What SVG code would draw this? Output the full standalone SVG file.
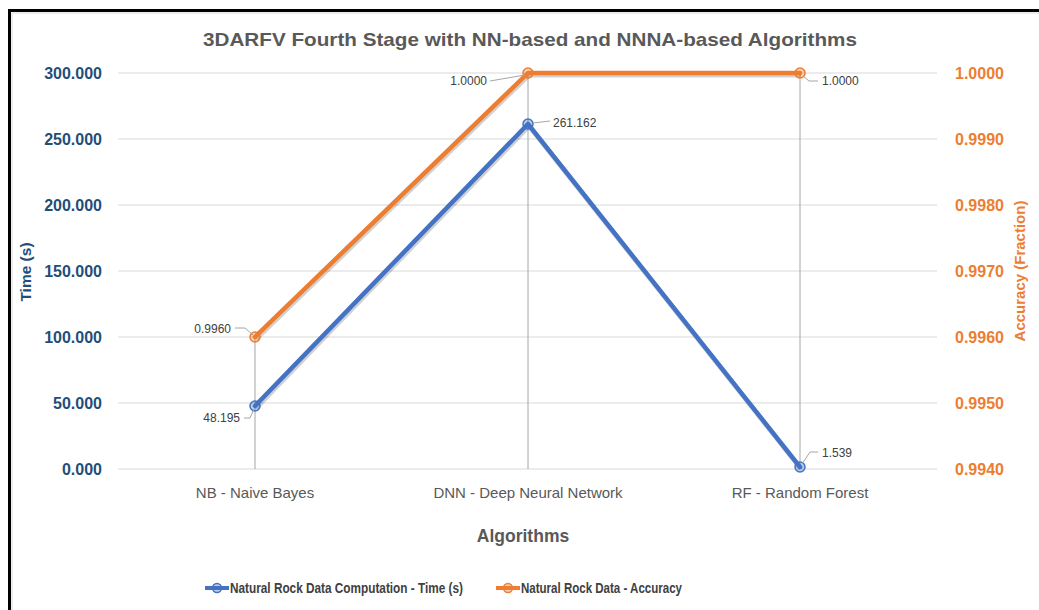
<svg xmlns="http://www.w3.org/2000/svg" width="1039" height="610" viewBox="0 0 1039 610">
<defs>
<style>
.grid{stroke:#d9d9d9;stroke-width:1;fill:none}
.drop{stroke:#a6a6a6;stroke-width:1;fill:none}
.yl{font-family:"Liberation Sans",Arial,sans-serif;font-weight:bold;font-size:16px;fill:#1f4e79;text-anchor:end}
.yr{font-family:"Liberation Sans",Arial,sans-serif;font-weight:bold;font-size:16px;fill:#ed7d31}
.cat{font-family:"Liberation Sans",Arial,sans-serif;font-size:15px;fill:#595959;text-anchor:middle}
.dl{font-family:"Liberation Sans",Arial,sans-serif;font-size:12px;fill:#404040}
.lead{stroke:#a6a6a6;stroke-width:1;fill:none}
.blue{stroke:#4472c4;stroke-width:4.5;fill:none;stroke-linejoin:round;stroke-linecap:round}
.orange{stroke:#ed7d31;stroke-width:4.5;fill:none;stroke-linejoin:round;stroke-linecap:round}
.shadow{stroke:#000;stroke-opacity:0.18;stroke-width:5;fill:none;stroke-linejoin:round}
.mb{stroke:#4472c4;stroke-width:1.5;fill:#4472c4;fill-opacity:0.35}
.mo{stroke:#ed7d31;stroke-width:1.5;fill:#ed7d31;fill-opacity:0.35}
.leg{font-family:"Liberation Sans",Arial,sans-serif;font-weight:bold;font-size:14px;fill:#404040}
</style>
</defs>
<rect x="0" y="0" width="1039" height="610" fill="#ffffff"/>
<g id="frame">
<path d="M9.5 610 V10.5 H1039" fill="none" stroke="#000" stroke-width="3"/>
<path d="M12 610 V13 H1039" fill="none" stroke="#d9d9d9" stroke-width="1"/>
</g>
<g id="title">
<text x="530" y="46" font-family="Liberation Sans, Arial, sans-serif" font-weight="bold" font-size="19" fill="#595959" text-anchor="middle" textLength="654" lengthAdjust="spacingAndGlyphs">3DARFV Fourth Stage with NN-based and NNNA-based Algorithms</text>
</g>
<g id="gridlines">
<line class="grid" x1="118" y1="73" x2="937" y2="73"/>
<line class="grid" x1="118" y1="139" x2="937" y2="139"/>
<line class="grid" x1="118" y1="205" x2="937" y2="205"/>
<line class="grid" x1="118" y1="271" x2="937" y2="271"/>
<line class="grid" x1="118" y1="337" x2="937" y2="337"/>
<line class="grid" x1="118" y1="403" x2="937" y2="403"/>
<line class="grid" x1="118" y1="469" x2="937" y2="469"/>
</g>
<g id="left-axis">
<text class="yl" x="102" y="79">300.000</text>
<text class="yl" x="102" y="145">250.000</text>
<text class="yl" x="102" y="211">200.000</text>
<text class="yl" x="102" y="277">150.000</text>
<text class="yl" x="102" y="343">100.000</text>
<text class="yl" x="102" y="409">50.000</text>
<text class="yl" x="102" y="475">0.000</text>
<text x="31" y="272" transform="rotate(-90 31 272)" font-family="Liberation Sans, Arial, sans-serif" font-weight="bold" font-size="15.5" fill="#1f4e79" text-anchor="middle">Time (s)</text>
</g>
<g id="right-axis">
<text class="yr" x="955" y="79">1.0000</text>
<text class="yr" x="955" y="145">0.9990</text>
<text class="yr" x="955" y="211">0.9980</text>
<text class="yr" x="955" y="277">0.9970</text>
<text class="yr" x="955" y="343">0.9960</text>
<text class="yr" x="955" y="409">0.9950</text>
<text class="yr" x="955" y="475">0.9940</text>
<text x="1025" y="271" transform="rotate(-90 1025 271)" font-family="Liberation Sans, Arial, sans-serif" font-weight="bold" font-size="15" fill="#ed7d31" text-anchor="middle">Accuracy (Fraction)</text>
</g>
<g id="drop-lines">
<line class="drop" x1="255" y1="337" x2="255" y2="469"/>
<line class="drop" x1="528" y1="73" x2="528" y2="469"/>
<line class="drop" x1="800" y1="73" x2="800" y2="469"/>
</g>
<g id="categories">
<text class="cat" x="255" y="498">NB - Naive Bayes</text>
<text class="cat" x="528" y="498">DNN - Deep Neural Network</text>
<text class="cat" x="800" y="498">RF - Random Forest</text>
<text x="523" y="542" font-family="Liberation Sans, Arial, sans-serif" font-weight="bold" font-size="17.5" fill="#595959" text-anchor="middle">Algorithms</text>
</g>
<g id="connectors">
<polyline class="shadow" points="256,408 529,126 801,469"/>
<polyline class="shadow" points="256,339 529,75 801,75"/>
<polyline class="blue" points="255,406 528,124 800,467"/>
<polyline class="orange" points="255,337 528,73 800,73"/>
</g>
<g id="series-time">
<circle class="mb" cx="255" cy="406" r="5"/>
<circle class="mb" cx="528" cy="124" r="5"/>
<circle class="mb" cx="800" cy="467" r="5"/>
</g>
<g id="series-accuracy">
<circle class="mo" cx="255" cy="337" r="5"/>
<circle class="mo" cx="528" cy="73" r="5"/>
<circle class="mo" cx="800" cy="73" r="5"/>
</g>
<g id="data-labels">
<polyline class="lead" points="235,328 245,328 253,335"/>
<text class="dl" x="231" y="333" text-anchor="end">0.9960</text>
<polyline class="lead" points="244,418 250,418 254,409"/>
<text class="dl" x="240" y="422" text-anchor="end">48.195</text>
<polyline class="lead" points="490,81 525,75"/>
<text class="dl" x="487" y="85" text-anchor="end">1.0000</text>
<polyline class="lead" points="533,123 550,121"/>
<text class="dl" x="553" y="127">261.162</text>
<polyline class="lead" points="803,76 809,81 818,81"/>
<text class="dl" x="822" y="85">1.0000</text>
<polyline class="lead" points="802,464 810,452 818,452"/>
<text class="dl" x="822" y="457">1.539</text>
</g>
<g id="legend">
<line x1="205" y1="588" x2="229" y2="588" stroke="#4472c4" stroke-width="4"/>
<circle class="mb" cx="217" cy="588" r="4.5" fill="#ffffff" fill-opacity="1"/>
<text class="leg" x="230" y="593" textLength="233" lengthAdjust="spacingAndGlyphs">Natural Rock Data Computation  - Time (s)</text>
<line x1="496" y1="588" x2="520" y2="588" stroke="#ed7d31" stroke-width="4"/>
<circle class="mo" cx="508" cy="588" r="4.5" fill="#ffffff" fill-opacity="1"/>
<text class="leg" x="521" y="593" textLength="161" lengthAdjust="spacingAndGlyphs">Natural Rock Data - Accuracy</text>
</g>
</svg>
